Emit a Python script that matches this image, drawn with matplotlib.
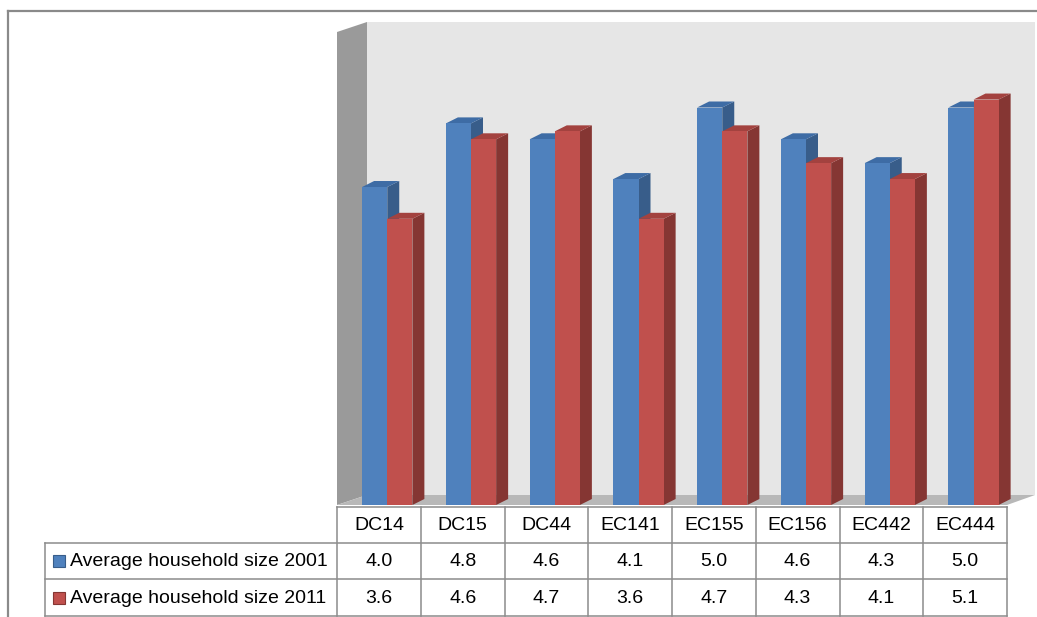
import matplotlib
matplotlib.use("Agg")
import matplotlib.pyplot as plt
from matplotlib.patches import Polygon, Rectangle
from matplotlib.lines import Line2D
import matplotlib.transforms as mtransforms

categories = ["DC14", "DC15", "DC44", "EC141", "EC155", "EC156", "EC442", "EC444"]
series_names = ["Average household size 2001", "Average household size 2011"]
size_2001 = [4.0, 4.8, 4.6, 4.1, 5.0, 4.6, 4.3, 5.0]
size_2011 = [3.6, 4.6, 4.7, 3.6, 4.7, 4.3, 4.1, 5.1]

front_cols = ["#4F81BD", "#C0504D"]
side_cols = ["#385D8A", "#853633"]
top_cols = ["#3E6CA5", "#A3423F"]

W, H = 1037, 617
fig = plt.figure(figsize=(W / 100, H / 100), dpi=100)
fig.patch.set_facecolor("white")
plt.rcParams["font.family"] = ["Liberation Sans", "DejaVu Sans"]

# main axes: front plane of the chart
x0px, x1px = 337, 1007
y0px = 505
ymax = 6.0
ppu = 79.5
topy = y0px - ymax * ppu
ax = fig.add_axes([x0px / W, (H - y0px) / H, (x1px - x0px) / W, (y0px - topy) / H])
ax.set_xlim(-0.5, len(categories) - 0.5)
ax.set_ylim(0, ymax)
ax.axis("off")

# overlay axes in pixel coordinates
ov = fig.add_axes([0, 0, 1, 1], zorder=5)
ov.set_xlim(0, W)
ov.set_ylim(H, 0)
ov.axis("off")
ov.patch.set_alpha(0)

cx = (x1px - x0px) / len(categories)  # px per category
def dpx(dx, dy):
    return dx / cx, dy / ppu

# walls / floor (pixel geometry of the 3D box)
wdx, wdy = dpx(30, 10)
bg = fig.add_axes([0, 0, 1, 1], zorder=-1)
bg.set_xlim(0, W); bg.set_ylim(H, 0); bg.axis("off")
bg.add_patch(Rectangle((367, 22), 1035 - 367, 495 - 22, facecolor="#E6E6E6", edgecolor="none"))
bg.add_patch(Polygon([(337, 32), (367, 22), (367, 495), (337, 505)], closed=True,
                     facecolor="#9A9A9A", edgecolor="none"))
bg.add_patch(Polygon([(337, 505), (1007, 505), (1035, 495), (367, 495)], closed=True,
                     facecolor="#B8B8B8", edgecolor="none"))

# bars
bw = 0.30
offsets = [-0.20, 0.10]
bdx, bdy = dpx(12, 6)
for s, vals in enumerate([size_2001, size_2011]):
    for i, v in enumerate(vals):
        xl = i + offsets[s]
        xr = xl + bw
        ax.add_patch(Polygon([(xr, 0), (xr, v), (xr + bdx, v + bdy), (xr + bdx, bdy)],
                             closed=True, facecolor=side_cols[s], edgecolor="none", clip_on=False, zorder=2 + s * 2))
        ax.add_patch(Polygon([(xl, v), (xr, v), (xr + bdx, v + bdy), (xl + bdx, v + bdy)],
                             closed=True, facecolor=top_cols[s], edgecolor="none", clip_on=False, zorder=2 + s * 2))
    ax.bar([i + offsets[s] for i in range(len(vals))], vals, width=bw, align="edge",
           color=front_cols[s], edgecolor="none", zorder=3 + s * 2, clip_on=False)

# outer frame
fc = "#8A8A8A"
ov.add_line(Line2D([8, W], [11, 11], color=fc, lw=1.6))
ov.add_line(Line2D([8, 8], [11, H], color=fc, lw=1.6))

# data table
tc = "#8C8C8C"
tlw = 1.1
bt = mtransforms.blended_transform_factory(ax.transData, ov.transData)
row_y = [507, 543, 579, 616]
ncat = len(categories)
ov.add_line(Line2D([x0px, x1px], [row_y[0], row_y[0]], color=tc, lw=tlw))
for yy in row_y[1:]:
    ov.add_line(Line2D([45, x1px], [yy, yy], color=tc, lw=tlw))
ov.add_line(Line2D([45, 45], [row_y[1], row_y[3]], color=tc, lw=tlw))
for k in range(ncat + 1):
    ax.add_line(Line2D([k - 0.5, k - 0.5], [row_y[0], row_y[3]], color=tc, lw=tlw,
                       transform=bt, clip_on=False))

fs = 14
for i, c in enumerate(categories):
    ov.text(i, (row_y[0] + row_y[1]) / 2 + 1, c, transform=bt, ha="center", va="center", fontsize=fs)
    ov.text(i, (row_y[1] + row_y[2]) / 2 + 1, f"{size_2001[i]:.1f}", transform=bt, ha="center", va="center", fontsize=fs)
    ov.text(i, (row_y[2] + row_y[3]) / 2 + 1, f"{size_2011[i]:.1f}", transform=bt, ha="center", va="center", fontsize=fs)

for s, name in enumerate(series_names):
    yc = (row_y[1 + s] + row_y[2 + s]) / 2
    ov.add_patch(Rectangle((53, yc - 6), 12, 12, facecolor=front_cols[s], edgecolor=side_cols[s], lw=0.8))
    ov.text(70, yc + 1, name, ha="left", va="center", fontsize=fs)

fig.savefig("out.png", dpi=100)
